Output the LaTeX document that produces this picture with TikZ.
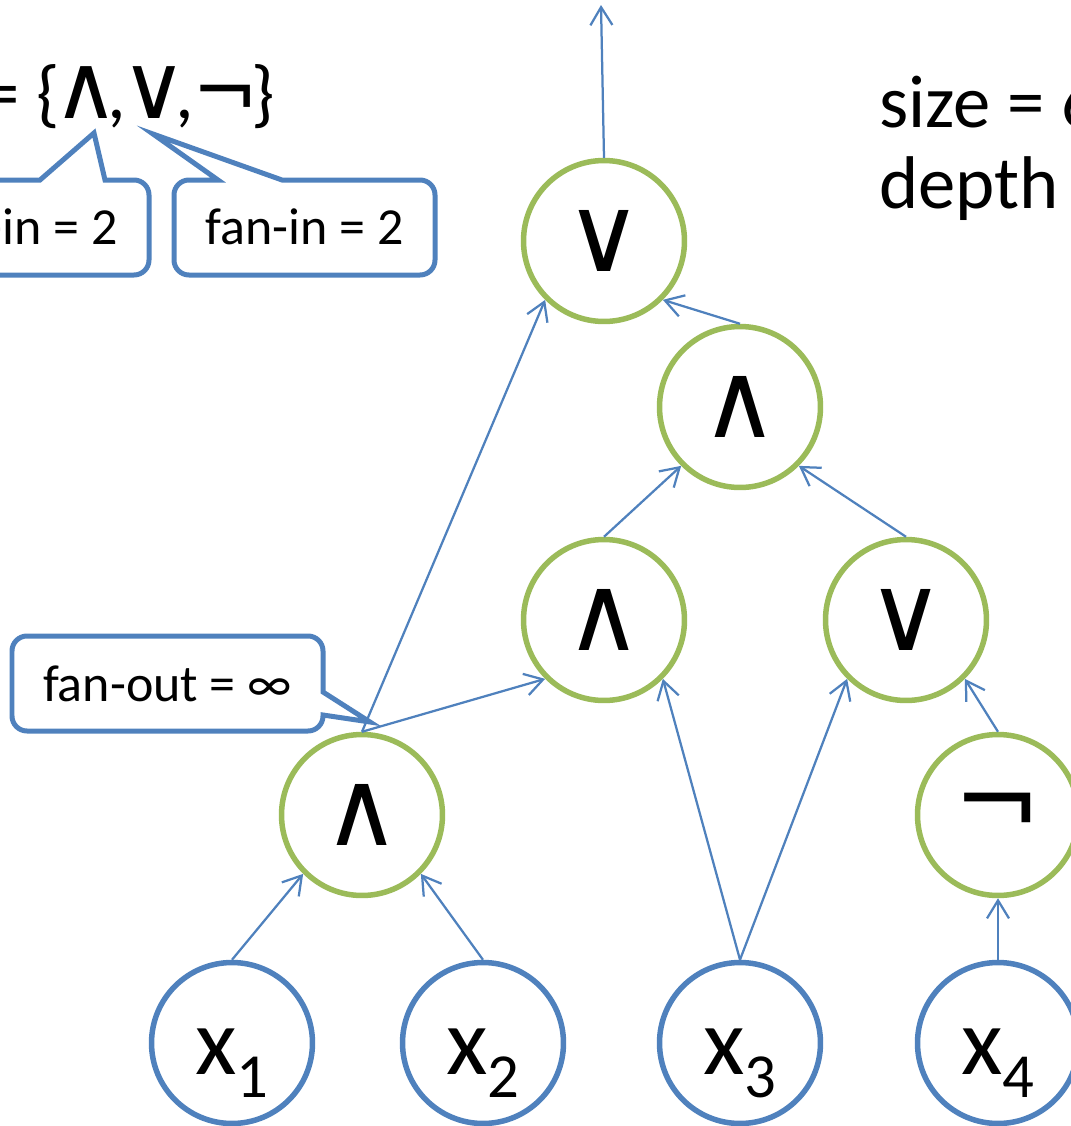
\documentclass[tikz,border=0pt]{standalone}
\usepackage{fontspec}
\setmainfont{Carlito}
\newfontfamily\opfont{DejaVu Sans}
\usetikzlibrary{arrows.meta}
\definecolor{gateGreen}{RGB}{155,187,89}
\definecolor{wireBlue}{RGB}{79,129,189}
\tikzset{
  gatenode/.style={draw=gateGreen, circle, line width=0.11cm, minimum size=3.22cm, inner sep=0pt, font=\opfont\fontsize{60}{60}\selectfont},
  varnode/.style={draw=wireBlue, circle, line width=0.11cm, minimum size=3.22cm, inner sep=0pt, text height=49pt, text depth=13pt, font=\fontsize{54.4}{55}\selectfont},
  wirearrow/.style={-{Straight Barb[length=3.6mm,width=4.4mm]}, draw=wireBlue, line width=0.045cm},
  calloutbox/.style={draw=wireBlue, line width=0.1cm, rounded corners=3mm},
  callouttext/.style={font=\fontsize{29.6}{30}\selectfont, inner sep=0pt},
  bigtext/.style={font=\fontsize{42.5}{43}\selectfont, inner sep=0pt, anchor=base west}
}
\newcommand{\varlabel}[1]{x\raisebox{-13pt}{\fontsize{35.7}{36}\selectfont #1}}
\newcommand{\setop}[2][51]{\makebox[24pt][c]{\opfont\fontsize{#1}{#1}\selectfont #2}}

\begin{document}
\begin{tikzpicture}[x=0.02cm, y=-0.02cm]
\useasboundingbox (0,0) rectangle (1071,1126);

% gates
\node[gatenode] (ortop) at (604,241) {∨};
\node[gatenode] (and1) at (740,407) {∧};
\node[gatenode] (and2) at (604,620) {∧};
\node[gatenode] (or2) at (906,620) {∨};
\node[gatenode] (and3) at (362,815) {∧};
\node[gatenode] (not) at (998,815) {¬};

% inputs
\node[varnode] (x1) at (232,1043) {\varlabel{1}};
\node[varnode] (x2) at (483,1043) {\varlabel{2}};
\node[varnode] (x3) at (740,1043) {\varlabel{3}};
\node[varnode] (x4) at (998,1043) {\varlabel{4}};
\coordinate (out) at (601,5);

% wires
\draw[wirearrow] (ortop.north) -- (out);
\draw[wirearrow] (and3.north) -- (ortop.-135);
\draw[wirearrow] (and1.north) -- (ortop.-45);
\draw[wirearrow] (and2.north) -- (and1.-135);
\draw[wirearrow] (or2.north) -- (and1.-45);
\draw[wirearrow] (and3.north) -- (and2.-135);
\draw[wirearrow] (x3.north) -- (and2.-45);
\draw[wirearrow] (x3.north) -- (or2.-135);
\draw[wirearrow] (not.north) -- (or2.-45);
\draw[wirearrow] (x1.north) -- (and3.-135);
\draw[wirearrow] (x2.north) -- (and3.-45);
\draw[wirearrow] (x4.north) -- (not.south);

% texts
\node[bigtext] (basis) at (-18,118) {= \{\kern3pt\setop{∧},\kern4pt\setop{∨},\kern6pt\setop[45]{¬}\kern3pt\}};
\node[bigtext] (size) at (879,127) {size = 6};
\node[bigtext] (depth) at (879,208) {depth};

% callouts
\draw[calloutbox] (105,180) -- (149,180) -- (149,275) -- (-112,275) -- (-112,180) [sharp corners] -- (40,180) -- (94,133) -- cycle;
\node[callouttext] (fanin1) at (18.5,227) {fan-in = 2};
\draw[calloutbox] (282,180) -- (435,180) -- (435,275) -- (174,275) -- (174,180) [sharp corners] -- (218,180) -- (153,134) -- cycle;
\node[callouttext] (fanin2) at (304.5,227) {fan-in = 2};
\draw[calloutbox] (323,715) -- (323,731) -- (12,731) -- (12,636) -- (323,636) [sharp corners] -- (323,692) -- (370,722) -- cycle;
\node[callouttext] (fanout) at (167.5,684) {fan-out = ∞};
\end{tikzpicture}
\end{document}
